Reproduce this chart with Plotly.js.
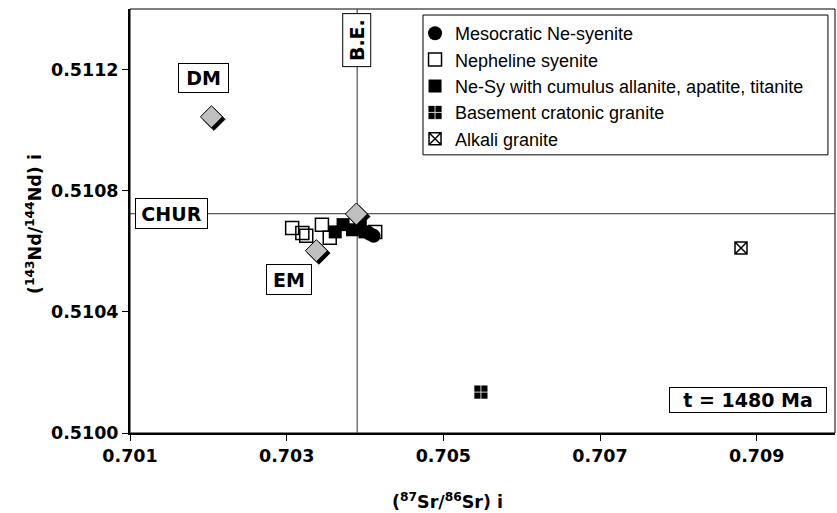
<!DOCTYPE html>
<html>
<head>
<meta charset="utf-8">
<script src="https://cdn.plot.ly/plotly-3.0.1.min.js"></script>
<style>html,body{margin:0;padding:0;background:#fff;}#chart{width:837px;height:513px;}</style>
</head>
<body>
<div id="chart"></div>
<script>
// ---- data ----
const srMeso = [0.70406, 0.70411];
const ndMeso = [0.510658, 0.510651];

const srNeph = [0.70307, 0.70320, 0.70325, 0.70345, 0.70355, 0.70413];
const ndNeph = [0.510677, 0.510660, 0.510651, 0.510688, 0.510645, 0.510664];

const srCum = [0.70362, 0.70372, 0.70384, 0.70394, 0.70400];
const ndCum = [0.510664, 0.510688, 0.510671, 0.510681, 0.510664];

const srBase = [0.70548];
const ndBase = [0.510135];

const srAlk = [0.70880];
const ndAlk = [0.510611];

// reservoirs: DM, EM, CHUR/BE intersection
const srRes = [0.70204, 0.70338, 0.70389];
const ndRes = [0.511044, 0.510602, 0.510723];

const CHUR_ND = 0.510724;
const BE_SR = 0.70390;

const xTickVals = [0.701, 0.703, 0.705, 0.707, 0.709];
const yTickVals = [0.5100, 0.5104, 0.5108, 0.5112];

const seriesNames = ['Mesocratic Ne-syenite', 'Nepheline syenite',
  'Ne-Sy with cumulus allanite, apatite, titanite', 'Basement cratonic granite', 'Alkali granite'];

// ---- layout helpers ----
const X0 = 0.701, X1 = 0.710, Y0 = 0.5100, Y1 = 0.5114;
const plotW = 705, plotH = 424;
const shX = 2.5 * (X1 - X0) / plotW;  // shadow offset in data units
const shY = 2.5 * (Y1 - Y0) / plotH;

const tickFont = {family: 'DejaVu Sans', size: 17.5, color: '#000', weight: 'bold'};
const labFont = {family: 'DejaVu Sans', size: 19, color: '#000', weight: 'bold'};

const traces = [
  {x: srNeph, y: ndNeph, name: seriesNames[1], type: 'scatter', mode: 'markers', legendrank: 2, legendgroup: 'b',
   marker: {symbol: 'square-open', size: 13, color: '#000', line: {width: 1.5, color: '#000'}}},
  {x: srCum, y: ndCum, name: seriesNames[2], type: 'scatter', mode: 'markers', legendrank: 3, legendgroup: 'c',
   marker: {symbol: 'square', size: 13, color: '#000', line: {width: 0}}},
  {x: srMeso, y: ndMeso, name: seriesNames[0], type: 'scatter', mode: 'markers', legendrank: 1, legendgroup: 'a',
   marker: {symbol: 'circle', size: 14, color: '#000', line: {width: 0}}},
  {x: srBase, y: ndBase, name: seriesNames[3], type: 'scatter', mode: 'markers', legendrank: 4, legendgroup: 'd',
   marker: {symbol: 'square-cross', size: 14, color: '#000', line: {width: 0.8, color: '#fff'}}},
  {x: srAlk, y: ndAlk, name: seriesNames[4], type: 'scatter', mode: 'markers', legendrank: 5, legendgroup: 'e',
   marker: {symbol: 'square-x-open', size: 12, color: '#000', line: {width: 1.5, color: '#000'}}},
  {x: srRes, y: ndRes, name: 'shadow', type: 'scatter', mode: 'markers', showlegend: false, hoverinfo: 'skip',
   xaxis: 'x2', yaxis: 'y2',
   marker: {symbol: 'diamond', size: 17, color: '#000', line: {width: 1, color: '#000'}}},
  {x: srRes, y: ndRes, name: 'reservoirs', type: 'scatter', mode: 'markers', showlegend: false,
   xaxis: 'x3', yaxis: 'y3',
   marker: {symbol: 'diamond', size: 17, color: '#c0c0c0', line: {width: 1, color: '#000'}}}
];

const hiddenAxis = {visible: false, showgrid: false, zeroline: false, fixedrange: true};

function box(text, xref, yref, x, y, w, h, extra) {
  return Object.assign({text: text, xref: xref, yref: yref, x: x, y: y, xanchor: 'center', yanchor: 'middle',
    showarrow: false, font: labFont, bgcolor: '#fff', bordercolor: '#000', borderwidth: 1, borderpad: 0,
    width: w, height: h}, extra || {});
}

const layout = {
  width: 837, height: 513,
  margin: {l: 130, r: 2, t: 9, b: 80, pad: 0},
  paper_bgcolor: '#fff', plot_bgcolor: '#fff',
  showlegend: true,
  font: {family: 'DejaVu Sans', color: '#000'},
  xaxis: {range: [X0, X1], tickvals: xTickVals, tickformat: '.3f', showgrid: false, zeroline: false,
    showline: true, linewidth: 2, linecolor: '#000', ticks: 'outside', ticklen: 6, tickwidth: 1, tickcolor: '#000',
    tickfont: tickFont},
  yaxis: {range: [Y0, Y1], tickvals: yTickVals, tickformat: '.4f', showgrid: false, zeroline: false,
    showline: true, linewidth: 2, linecolor: '#000', ticks: 'outside', ticklen: 6, tickwidth: 1, tickcolor: '#000',
    tickfont: tickFont},
  xaxis2: Object.assign({overlaying: 'x', range: [X0 - shX, X1 - shX]}, hiddenAxis),
  yaxis2: Object.assign({overlaying: 'y', range: [Y0 + shY, Y1 + shY]}, hiddenAxis),
  xaxis3: Object.assign({overlaying: 'x', range: [X0, X1]}, hiddenAxis),
  yaxis3: Object.assign({overlaying: 'y', range: [Y0, Y1]}, hiddenAxis),
  legend: {x: 0.4043, y: 0.9858, xanchor: 'left', yanchor: 'top', bgcolor: 'rgba(0,0,0,0)', borderwidth: 0,
    font: {family: 'Liberation Sans', size: 18, color: '#000'}, tracegroupgap: 3.5, itemwidth: 30,
    traceorder: 'normal'},
  shapes: [
    {type: 'rect', xref: 'paper', yref: 'paper', x0: 0, x1: 1, y0: 0, y1: 1, line: {color: '#000', width: 1}, layer: 'below'},
    {type: 'line', xref: 'paper', yref: 'y', x0: 0, x1: 1, y0: CHUR_ND, y1: CHUR_ND, line: {color: '#333', width: 1}, layer: 'below'},
    {type: 'line', xref: 'x', yref: 'paper', x0: BE_SR, x1: BE_SR, y0: 0, y1: 1, line: {color: '#333', width: 1}, layer: 'below'},
    {type: 'rect', xref: 'paper', yref: 'paper', x0: 0.4156, x1: 0.990, y0: 0.656, y1: 0.9858,
     fillcolor: '#fff', line: {color: '#000', width: 1}, layer: 'above'}
  ],
  annotations: [
    box('DM', 'paper', 'paper', 0.1043, 0.8373, 49, 28),
    box('CHUR', 'paper', 'y', 0.0589, CHUR_ND, 71, 29),
    box('EM', 'paper', 'paper', 0.2255, 0.361, 44, 29),
    box('B.E.', 'x', 'paper', BE_SR, 0.927, 52, 27, {textangle: -90}),
    box('t = 1480 Ma', 'paper', 'paper', 0.8766, 0.079, 156, 24),
    {text: '(<sup>143</sup>Nd/<sup>144</sup>Nd) i', xref: 'paper', yref: 'paper', x: -0.136, y: 0.493,
     xanchor: 'center', yanchor: 'middle', showarrow: false, textangle: -90, font: tickFont},
    {text: '(<sup>87</sup>Sr/<sup>86</sup>Sr) i', xref: 'paper', yref: 'paper', x: 0.451, y: -0.16,
     xanchor: 'center', yanchor: 'middle', showarrow: false, font: tickFont}
  ]
};

Plotly.newPlot('chart', traces, layout, {staticPlot: true, displayModeBar: false});
</script>
</body>
</html>
